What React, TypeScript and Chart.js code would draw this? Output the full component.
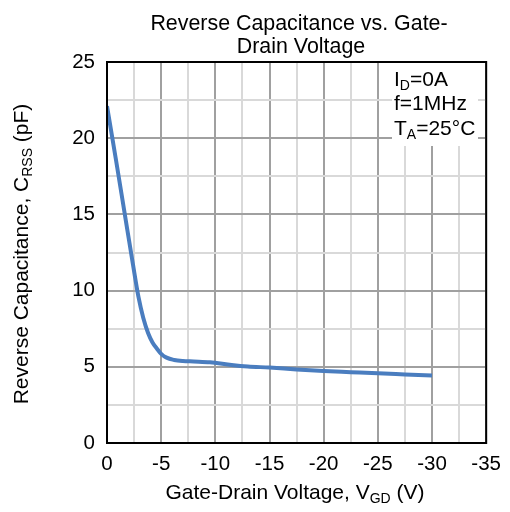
import React, { useEffect, useRef } from "react";
import { Chart, registerables } from "chart.js";

Chart.register(...registerables);

const voltages = [0, -0.8, -1.6, -2.4, -2.9, -3.35, -3.8, -4.2, -4.6, -5, -5.5, -6.2, -7, -8, -9.5, -11.5, -13, -15, -17.5, -20, -22.5, -25, -27.5, -30];
const capacitance = [22.1, 18.7, 15.2, 11.7, 9.6, 8.2, 7.2, 6.6, 6.2, 5.85, 5.6, 5.45, 5.38, 5.35, 5.3, 5.12, 5.02, 4.95, 4.83, 4.73, 4.65, 4.57, 4.5, 4.43];

const titleLines = ["Reverse Capacitance vs. Gate-", "Drain Voltage"];
const xTitleParts: [string, boolean][] = [["Gate-Drain Voltage, V", false], ["GD", true], [" (V)", false]];
const yTitleParts: [string, boolean][] = [["Reverse Capacitance, C", false], ["RSS", true], [" (pF)", false]];
const noteLines: [string, boolean][][] = [
  [["I", false], ["D", true], ["=0A", false]],
  [["f=1MHz", false]],
  [["T", false], ["A", true], ["=25°C", false]],
];

const FONT = '"Liberation Sans", Arial, sans-serif';
const MAJOR = "#a0a0a0";
const MINOR = "#d9d9d9";

function drawRich(ctx: CanvasRenderingContext2D, parts: [string, boolean][], x: number, y: number, size: number, align: "left" | "center") {
  const subSize = Math.round(size * 0.68);
  let total = 0;
  for (const [t, sub] of parts) {
    ctx.font = `${sub ? subSize : size}px ${FONT}`;
    total += ctx.measureText(t).width;
  }
  let cx = align === "center" ? x - total / 2 : x;
  ctx.textAlign = "left";
  ctx.textBaseline = "alphabetic";
  for (const [t, sub] of parts) {
    ctx.font = `${sub ? subSize : size}px ${FONT}`;
    ctx.fillText(t, cx, sub ? y + 4 : y);
    cx += ctx.measureText(t).width;
  }
}

const decorPlugin = {
  id: "decor",
  beforeDatasetsDraw(chart: any) {
    const ctx = chart.ctx as CanvasRenderingContext2D;
    ctx.save();
    ctx.fillStyle = "#ffffff";
    ctx.fillRect(392, 63, 86, 83);
    ctx.restore();
  },
  afterDatasetsDraw(chart: any) {
    const ctx = chart.ctx as CanvasRenderingContext2D;
    const a = chart.chartArea;
    ctx.save();
    ctx.strokeStyle = "#000000";
    ctx.lineWidth = 2;
    ctx.strokeRect(a.left, a.top, a.right - a.left, a.bottom - a.top);
    ctx.fillStyle = "#000000";
    ctx.font = `21.4px ${FONT}`;
    ctx.textAlign = "center";
    ctx.textBaseline = "alphabetic";
    ctx.fillText(titleLines[0], 299, 30);
    ctx.fillText(titleLines[1], 301, 53);
    const base = [86, 110, 135];
    noteLines.forEach((ln, i) => drawRich(ctx, ln, 394, base[i], 21, "left"));
    drawRich(ctx, xTitleParts, 295, 499, 21, "center");
    ctx.translate(28, 254);
    ctx.rotate(-Math.PI / 2);
    drawRich(ctx, yTitleParts, 0, 0, 21, "center");
    ctx.restore();
  },
};

export default function App() {
  const ref = useRef<HTMLCanvasElement>(null);
  useEffect(() => {
    document.body.style.margin = "0";
    const canvas = ref.current!;
    const gridColor = (c: any) => (c.tick && Math.abs(c.tick.value % 5) < 1e-9 ? MAJOR : MINOR);
    const chart = new Chart(canvas, {
      type: "scatter",
      data: {
        datasets: [
          {
            data: voltages.map((v, i) => ({ x: v, y: capacitance[i] })),
            showLine: true,
            borderColor: "#4a7dbf",
            backgroundColor: "#4a7dbf",
            borderWidth: 4,
            pointRadius: 0,
            cubicInterpolationMode: "monotone",
          },
        ],
      },
      options: {
        animation: false,
        responsive: false,
        devicePixelRatio: 1,
        layout: { padding: { left: 0, right: 21, top: 62, bottom: 0 } },
        plugins: { legend: { display: false }, tooltip: { enabled: false }, title: { display: false } },
        scales: {
          x: {
            type: "linear",
            min: -35,
            max: 0,
            reverse: true,
            afterFit: (s: any) => { s.height = 69; },
            border: { display: false },
            grid: { color: gridColor, lineWidth: 2, drawTicks: false },
            ticks: {
              stepSize: 2.5,
              autoSkip: false,
              maxRotation: 0,
              padding: 9,
              color: "#000",
              font: { family: FONT, size: 20.5 },
              callback: (v: any) => (Math.abs(v % 5) < 1e-9 ? String(v) : ""),
            },
          },
          y: {
            type: "linear",
            min: 0,
            max: 25,
            afterFit: (s: any) => { s.width = 107; },
            border: { display: false },
            grid: { color: gridColor, lineWidth: 2, drawTicks: false },
            ticks: {
              stepSize: 2.5,
              autoSkip: false,
              padding: 12,
              color: "#000",
              font: { family: FONT, size: 20.5 },
              callback: (v: any) => (Math.abs(v % 5) < 1e-9 ? String(v) : ""),
            },
          },
        },
      },
      plugins: [decorPlugin],
    } as any);
    return () => chart.destroy();
  }, []);
  return (
    <div style={{ width: 510, height: 512, background: "#fff" }}>
      <canvas ref={ref} width={510} height={512} />
    </div>
  );
}
